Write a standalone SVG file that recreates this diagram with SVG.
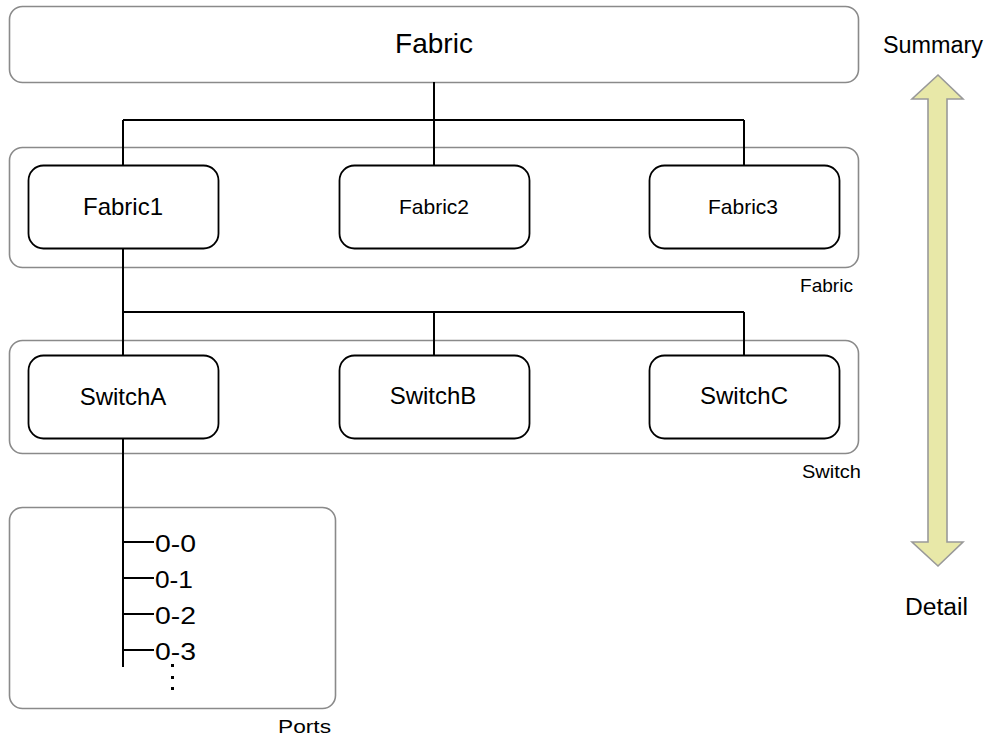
<svg xmlns="http://www.w3.org/2000/svg" width="990" height="736" viewBox="0 0 990 736">
<style>
text{font-family:"Liberation Sans",Arial,sans-serif;fill:#000}
.grp{fill:#fff;stroke:#8a8a8a;stroke-width:1.6}
.node{fill:#fff;stroke:#000;stroke-width:1.8}
.con{fill:none;stroke:#000;stroke-width:2}
.big{font-size:24px;text-anchor:middle}
.mid{font-size:21px;text-anchor:middle}
.lbl{font-size:19px}
.port{font-size:23px}
</style>
<rect width="990" height="736" fill="#fff"/>
<g id="top">
<rect class="grp" x="9.5" y="6.5" width="849" height="76" rx="13"/>
<text x="434" y="53" style="font-size:28px;text-anchor:middle">Fabric</text>
</g>
<g id="fabric-group">
<rect class="grp" x="9.5" y="147.5" width="849" height="120" rx="13"/>
<text class="lbl" x="800" y="292" textLength="53" lengthAdjust="spacingAndGlyphs">Fabric</text>
</g>
<g id="switch-group">
<rect class="grp" x="9.5" y="340.5" width="849" height="113" rx="13"/>
<text class="lbl" x="802" y="478" textLength="59" lengthAdjust="spacingAndGlyphs">Switch</text>
</g>
<g id="ports-group">
<rect class="grp" x="9.5" y="507.5" width="326" height="201" rx="13"/>
<text class="lbl" x="278" y="733" textLength="53" lengthAdjust="spacingAndGlyphs">Ports</text>
</g>
<g id="connectors">
<path class="con" d="M434 82V120M123 120H744M123 120V165M434 120V165M744 120V165"/>
<path class="con" d="M123 249V312M123 312H744M434 312V355M744 312V355M123 312V355"/>
<path class="con" d="M123 439V667"/>
<path class="con" d="M123 542H154M123 578H154M123 614H154M123 650H154"/>
</g>
<g id="fabric1">
<rect class="node" x="28.5" y="165.5" width="190" height="83" rx="15"/>
<text class="big" x="123" y="215">Fabric1</text>
</g>
<g id="fabric2">
<rect class="node" x="339.5" y="165.5" width="190" height="83" rx="15"/>
<text class="mid" x="434" y="214">Fabric2</text>
</g>
<g id="fabric3">
<rect class="node" x="649.5" y="165.5" width="190" height="83" rx="15"/>
<text class="mid" x="743" y="214">Fabric3</text>
</g>
<g id="switchA">
<rect class="node" x="28.5" y="355.5" width="190" height="83" rx="15"/>
<text class="big" x="123" y="405">SwitchA</text>
</g>
<g id="switchB">
<rect class="node" x="339.5" y="355.5" width="190" height="83" rx="15"/>
<text class="big" x="433" y="404">SwitchB</text>
</g>
<g id="switchC">
<rect class="node" x="649.5" y="355.5" width="190" height="83" rx="15"/>
<text class="big" x="744" y="404">SwitchC</text>
</g>
<g id="ports">
<text class="port" x="155" y="552" textLength="41" lengthAdjust="spacingAndGlyphs">0-0</text>
<text class="port" x="155" y="588" textLength="38" lengthAdjust="spacingAndGlyphs">0-1</text>
<text class="port" x="155" y="624" textLength="41" lengthAdjust="spacingAndGlyphs">0-2</text>
<text class="port" x="155" y="660" textLength="41" lengthAdjust="spacingAndGlyphs">0-3</text>
<rect x="171" y="664" width="3" height="3" fill="#000"/>
<rect x="171" y="676" width="3" height="3" fill="#000"/>
<rect x="171" y="687" width="3" height="3" fill="#000"/>
</g>
<g id="scale">
<polygon points="938,75 963,99 947,99 947,542 963,542 938,566 912,542 928,542 928,99 912,99" fill="#e8e8a8" stroke="#999" stroke-width="1.6"/>
<text x="883" y="53" style="font-size:23px" textLength="100" lengthAdjust="spacingAndGlyphs">Summary</text>
<text x="905" y="615" style="font-size:23px" textLength="63" lengthAdjust="spacingAndGlyphs">Detail</text>
</g>
</svg>
